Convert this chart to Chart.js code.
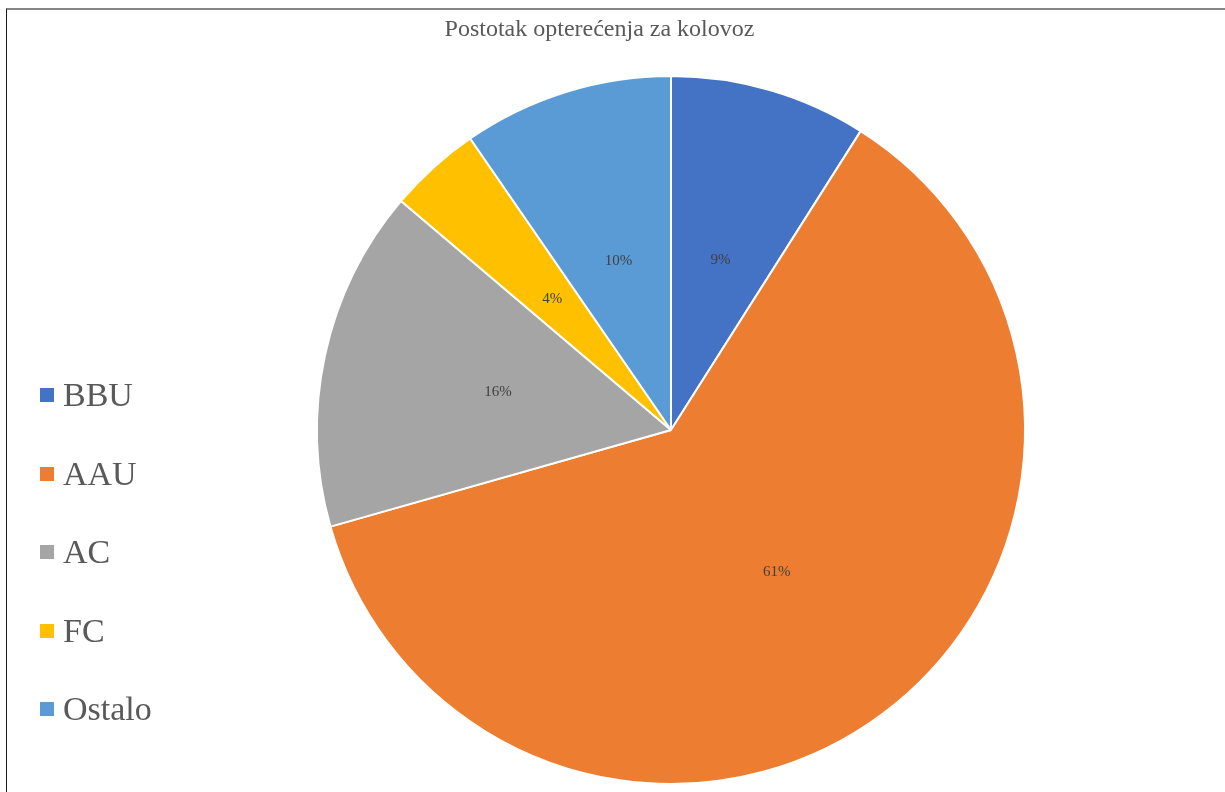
<!DOCTYPE html>
<html>
<head>
<meta charset="utf-8">
<script src="https://cdn.jsdelivr.net/npm/chart.js@4"></script>
<style>
  html, body { margin: 0; padding: 0; background: #fff; }
  body { width: 1225px; height: 792px; position: relative; overflow: hidden; font-family: "Liberation Serif", "DejaVu Serif", serif; }
  #frame { position: absolute; left: 6px; top: 8px; right: 0; bottom: 0; border-top: 2px solid #858585; border-left: 1px solid #1a1a1a; }
  #chart { position: absolute; left: 0; top: 0; }
  #title { position: absolute; left: 0; width: 1199px; top: 15px; text-align: center; font-size: 24px; color: #595959; }
  .leg { position: absolute; left: 40px; height: 40px; display: flex; align-items: center; font-size: 34px; color: #595959; }
  .leg span.box { width: 14px; height: 14px; margin-right: 9px; }
</style>
</head>
<body>
<div id="frame"></div>
<canvas id="chart" width="1225" height="792"></canvas>
<div id="title">Postotak opterećenja za kolovoz</div>
<div id="legend"></div>
<script>
const labels = ['BBU', 'AAU', 'AC', 'FC', 'Ostalo'];
const values = [9.0, 61.6, 15.6, 4.2, 9.6];
const shown = ['9%', '61%', '16%', '4%', '10%'];
const colors = ['#4472C4', '#ED7D31', '#A5A5A5', '#FFC000', '#5B9BD5'];

// legend on the left, built from the same arrays
const legend = document.getElementById('legend');
labels.forEach((l, i) => {
    const row = document.createElement('div');
    row.className = 'leg';
    row.style.top = (375 + i * 78.5) + 'px';
    row.innerHTML = '<span class="box" style="background:' + colors[i] + '"></span>' + l;
    legend.appendChild(row);
});

const sliceLabels = {
    id: 'sliceLabels',
    afterDatasetsDraw(chart) {
        const c = chart.ctx;
        c.save();
        c.font = '15px "Liberation Serif", serif';
        c.fillStyle = '#404040';
        c.textAlign = 'center';
        c.textBaseline = 'middle';
        chart.getDatasetMeta(0).data.forEach((arc, i) => {
            const p = arc.getCenterPoint();
            c.fillText(shown[i], p.x, p.y);
        });
        c.restore();
    }
};

const ctx = document.getElementById('chart');
const myChart = new Chart(ctx, {
    type: 'pie',
    data: {
        labels: labels,
        datasets: [{
            data: values,
            backgroundColor: colors,
            borderColor: '#ffffff',
            borderWidth: 2
        }]
    },
    options: {
        responsive: false,
        animation: false,
        layout: { padding: { left: 316, right: 199, top: 75, bottom: 7 } },
        plugins: {
            legend: { display: false },
            tooltip: { enabled: false },
            title: { display: false }
        }
    },
    plugins: [sliceLabels]
});
</script>
</body>
</html>
